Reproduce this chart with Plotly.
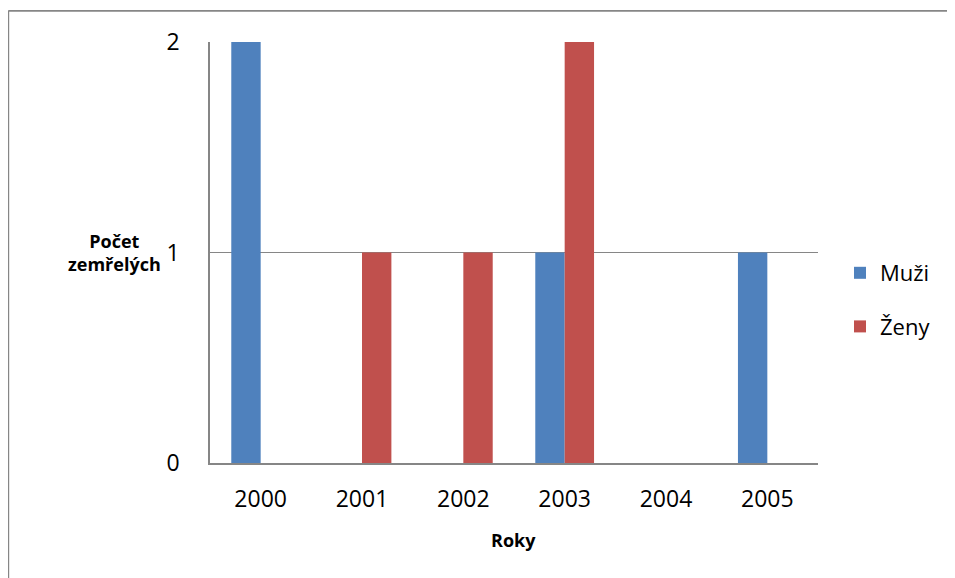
import plotly.graph_objects as go

years = ["2000", "2001", "2002", "2003", "2004", "2005"]
muzi = [2, 0, 0, 1, 0, 1]
zeny = [0, 1, 1, 2, 0, 0]
series_names = ["Muži", "Ženy"]
colors = ["#4F81BD", "#C0504D"]
y_ticks = [0, 1, 2]
x_title = "Roky"
y_title = "Počet<br>zemřelých"

FONT = "Open Sans"
OFF = 8  # page body margin
W, H = 955 - OFF, 578 - OFF
L, T = 210 - OFF, 42 - OFF
R = W - (818 - OFF)
B = H - (463 - OFF)
pw, ph = W - L - R, H - T - B


def px_x(page_x):
    return (page_x - OFF - L) / pw


def px_y(page_y):
    return (H - B - (page_y - OFF)) / ph


fig = go.Figure()
for i, (name, vals) in enumerate(zip(series_names, [muzi, zeny])):
    fig.add_trace(go.Bar(x=years, y=vals, name=name, marker_color=colors[i],
                         marker_line_width=0, legendgroup=name))

fig.update_layout(
    width=W, height=H,
    margin=dict(l=L, r=R, t=T, b=B, autoexpand=False),
    paper_bgcolor="white", plot_bgcolor="white",
    barmode="group", bargap=0.42, bargroupgap=0,
    font=dict(family=FONT, size=22, color="black"),
    showlegend=True,
    legend=dict(x=px_x(840), y=px_y(252), xanchor="left", yanchor="top",
                traceorder="grouped", tracegroupgap=22,
                font=dict(family=FONT, size=22), itemwidth=30,
                bgcolor="rgba(0,0,0,0)"),
    xaxis=dict(type="category", showgrid=False, showline=True, linecolor="#868686",
               linewidth=1.5, ticks="", ticklabelstandoff=15,
               tickfont=dict(family=FONT, size=23)),
    yaxis=dict(range=[0, 2], tickvals=y_ticks, showgrid=True, gridcolor="#868686",
               gridwidth=1.3, showline=True, linecolor="#868686", linewidth=1.5,
               ticks="", ticklabelstandoff=24, zeroline=False,
               tickfont=dict(family=FONT, size=23)),
)

# outer chart border (left and top edges visible)
bx = px_x(8.3)
by = px_y(10.8)
fig.add_shape(type="line", xref="paper", yref="paper", x0=bx, x1=bx, y0=by, y1=-1,
              line=dict(color="#868686", width=1.8), layer="above")
fig.add_shape(type="line", xref="paper", yref="paper", x0=bx, x1=2, y0=by, y1=by,
              line=dict(color="#868686", width=1.8), layer="above")

fig.add_annotation(text="<b>" + y_title + "</b>", xref="paper", yref="paper",
                   x=px_x(114), y=px_y(252), xanchor="center", yanchor="middle",
                   showarrow=False, font=dict(family=FONT, size=18), align="center")
fig.add_annotation(text="<b>" + x_title + "</b>", xref="paper", yref="paper",
                   x=px_x(513), y=px_y(540), xanchor="center", yanchor="middle",
                   showarrow=False, font=dict(family=FONT, size=18))

fig.write_html("out.html")
